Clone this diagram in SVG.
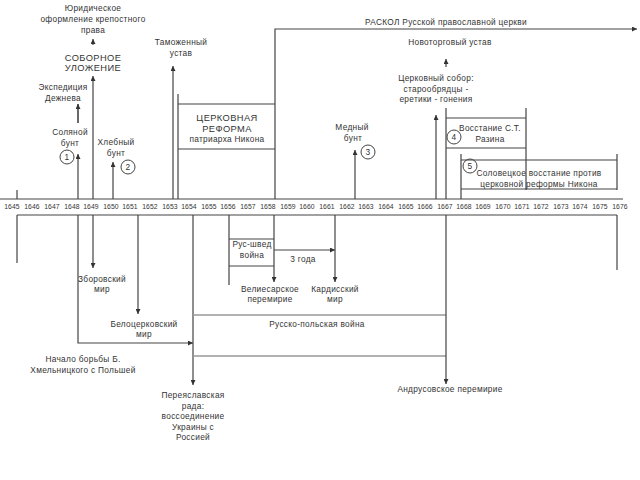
<svg xmlns="http://www.w3.org/2000/svg" width="640" height="480" viewBox="0 0 640 480">
<defs>
<marker id="ah" markerUnits="userSpaceOnUse" markerWidth="6" markerHeight="5" refX="5" refY="2.5" orient="auto">
<path d="M0,0 L5,2.5 L0,5 z" fill="#333"/>
</marker>
<style>
.ln{fill:none;stroke:#444;stroke-width:1.2}
.lt{fill:none;stroke:#999;stroke-width:1.4}
.ar{marker-end:url(#ah)}
text{font-family:"Liberation Sans",Arial,sans-serif;font-size:8.3px;fill:#333;text-anchor:middle;letter-spacing:0.3px}
.yr{font-size:6.8px;letter-spacing:0.1px}
.big{font-size:9.3px;letter-spacing:0.4px}
.c{fill:none;stroke:#444;stroke-width:1}
</style>
</defs>
<rect width="640" height="480" fill="#fff"/>
<g id="connectors">
<path class="ln" d="M0,199 H623"/>
<path class="ln" d="M17,215 H617"/>
<path class="ln" d="M17,190 V199"/>
<path class="ln" d="M17,215 V263"/>
<path class="ln" d="M617,215 V270"/>
<path class="ln ar" d="M78,199 V154"/>
<path class="ln ar" d="M78,123 V104" style="stroke-width:1.6"/>
<path class="ln ar" d="M78,215 V343 H193"/>
<path class="ln ar" d="M93,199 V76"/>
<path class="ln ar" d="M93,45 V39"/>
<path class="ln ar" d="M93,215 V268"/>
<path class="ln ar" d="M113,199 V162"/>
<path class="ln ar" d="M138,215 V314"/>
<path class="ln ar" d="M173,199 V66"/>
<path class="ln" d="M178,199 V94 M178,104 H275 M178,149 H275"/>
<path class="ln ar" d="M275,199 V29 H637"/>
<path class="ln ar" d="M193,215 V385"/>
<path class="lt" d="M193,315 H446 M193,356 H446"/>
<path class="ln ar" d="M446,215 V384"/>
<path class="ln" d="M229,215 V285 M229,239 H274 M229,266 H274"/>
<path class="ln ar" d="M274,215 V282"/>
<path class="ln ar" d="M274,250 H335"/>
<path class="ln ar" d="M335,215 V282"/>
<path class="ln ar" d="M355,199 V150"/>
<path class="ln ar" d="M436,199 V115"/>
<path class="ln ar" d="M446,67 V59"/>
<path class="ln" d="M446,199 V108 M446,118 H526 M446,148 H526 M526,108 V190"/>
<path class="ln" d="M461,199 V154 M461,160 H617 M461,189 H617 M617,154 V190"/>
</g>
<g id="axis-years">
<text class="yr" x="12" y="208.5">1645</text>
<text class="yr" x="32" y="208.5">1646</text>
<text class="yr" x="52" y="208.5">1647</text>
<text class="yr" x="72" y="208.5">1648</text>
<text class="yr" x="91" y="208.5">1649</text>
<text class="yr" x="111" y="208.5">1650</text>
<text class="yr" x="130" y="208.5">1651</text>
<text class="yr" x="150" y="208.5">1652</text>
<text class="yr" x="170" y="208.5">1653</text>
<text class="yr" x="189" y="208.5">1654</text>
<text class="yr" x="209" y="208.5">1655</text>
<text class="yr" x="228" y="208.5">1656</text>
<text class="yr" x="248" y="208.5">1657</text>
<text class="yr" x="268" y="208.5">1658</text>
<text class="yr" x="288" y="208.5">1659</text>
<text class="yr" x="307" y="208.5">1660</text>
<text class="yr" x="327" y="208.5">1661</text>
<text class="yr" x="347" y="208.5">1662</text>
<text class="yr" x="366" y="208.5">1663</text>
<text class="yr" x="386" y="208.5">1664</text>
<text class="yr" x="406" y="208.5">1665</text>
<text class="yr" x="425" y="208.5">1666</text>
<text class="yr" x="445" y="208.5">1667</text>
<text class="yr" x="464" y="208.5">1668</text>
<text class="yr" x="483" y="208.5">1669</text>
<text class="yr" x="503" y="208.5">1670</text>
<text class="yr" x="522" y="208.5">1671</text>
<text class="yr" x="541" y="208.5">1672</text>
<text class="yr" x="561" y="208.5">1673</text>
<text class="yr" x="580" y="208.5">1674</text>
<text class="yr" x="600" y="208.5">1675</text>
<text class="yr" x="620" y="208.5">1676</text>
</g>
<g id="n-krepost"><text x="93" y="11">Юридическое</text><text x="93" y="22">оформление крепостного</text><text x="93" y="33">права</text></g>
<g id="n-ulozhenie"><text class="big" x="93" y="60.5">СОБОРНОЕ</text><text class="big" x="93" y="71">УЛОЖЕНИЕ</text></g>
<g id="n-dezhnev"><text x="63" y="90">Экспедиция</text><text x="63" y="101">Дежнева</text></g>
<g id="n-solyanoy"><text x="70" y="135">Соляной</text><text x="70" y="146">бунт</text><circle class="c" cx="67" cy="157" r="7"/><text x="67" y="160">1</text></g>
<g id="n-khlebny"><text x="116" y="145">Хлебный</text><text x="116" y="156">бунт</text><circle class="c" cx="128" cy="167" r="7"/><text x="128" y="170">2</text></g>
<g id="n-tamozh"><text x="181" y="45">Таможенный</text><text x="181" y="56">устав</text></g>
<g id="n-reforma"><text class="big" x="227" y="120.5">ЦЕРКОВНАЯ</text><text class="big" x="227" y="131.5">РЕФОРМА</text><text x="227" y="141.5">патриарха Никона</text></g>
<g id="n-raskol"><text x="446" y="25">РАСКОЛ Русской православной церкви</text></g>
<g id="n-novotorg"><text x="450" y="45">Новоторговый устав</text></g>
<g id="n-sobor"><text x="436" y="81">Церковный собор:</text><text x="436" y="92">старообрядцы -</text><text x="436" y="102">еретики - гонения</text></g>
<g id="n-medny"><text x="352" y="130">Медный</text><text x="353" y="141">бунт</text><circle class="c" cx="368" cy="152" r="7"/><text x="368" y="155">3</text></g>
<g id="n-razin"><text x="490" y="131">Восстание С.Т.</text><text x="490" y="142">Разина</text><circle class="c" cx="454" cy="137" r="7"/><text x="454" y="140">4</text></g>
<g id="n-solovki"><text x="539" y="176">Соловецкое восстание против</text><text x="539" y="187">церковной реформы Никона</text><circle class="c" cx="470" cy="166" r="7"/><text x="470" y="169">5</text></g>
<g id="n-zborov"><text x="102" y="282">Зборовский</text><text x="102" y="292">мир</text></g>
<g id="n-belots"><text x="144" y="327">Белоцерковский</text><text x="144" y="337">мир</text></g>
<g id="n-khmeln"><text x="83" y="362">Начало борьбы Б.</text><text x="83" y="373">Хмельницкого с Польшей</text></g>
<g id="n-pereyasl"><text x="193" y="398">Переяславская</text><text x="193" y="408.5">рада:</text><text x="193" y="419">воссоединение</text><text x="193" y="429.5">Украины с</text><text x="193" y="440">Россией</text></g>
<g id="n-russhved"><text x="252" y="247">Рус-швед</text><text x="252" y="258">война</text></g>
<g id="n-3goda"><text x="303" y="262">3 года</text></g>
<g id="n-valies"><text x="270" y="292">Велиесарское</text><text x="270" y="302">перемирие</text></g>
<g id="n-kardis"><text x="335" y="292">Кардисский</text><text x="335" y="302">мир</text></g>
<g id="n-ruspol"><text x="317" y="327">Русско-польская война</text></g>
<g id="n-andrus"><text x="450" y="392">Андрусовское перемирие</text></g>
</svg>
